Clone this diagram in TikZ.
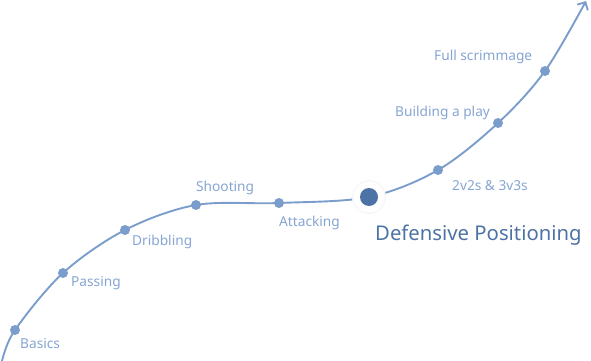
\documentclass[tikz,border=0pt]{standalone}
\usepackage{fontspec}
\setmainfont{Noto Sans}
\usetikzlibrary{arrows.meta}
\definecolor{curveblue}{HTML}{7A9DCB}
\definecolor{labelblue}{HTML}{86A5D2}
\definecolor{darkblue}{HTML}{4D72A5}
\begin{document}
\begin{tikzpicture}[x=1pt,y=-1pt,
  stepdot/.style={circle,fill=curveblue,inner sep=0pt,minimum size=10pt},
  steplabel/.style={anchor=west,inner sep=0pt,text=labelblue,font=\fontsize{13.7}{15}\selectfont},
  curve/.style={draw=curveblue,line width=1.9pt}]
\useasboundingbox (0,0) rectangle (591,361);
\coordinate (s) at (2,361);
\coordinate (b) at (15,330);
\coordinate (p) at (63,273);
\coordinate (d) at (125,230);
\coordinate (sh) at (196,205);
\coordinate (a) at (279,203);
\coordinate (dp) at (369,197);
\coordinate (v) at (438,170);
\coordinate (bp) at (498,123);
\coordinate (f) at (545,71);
\coordinate (e) at (586,1);
\draw[curve,-{Straight Barb[length=6pt,width=12pt]}] plot[smooth,tension=0.55] coordinates {(s) (b) (p) (d) (sh) (a) (dp) (v) (bp) (f) (e)};
\node[stepdot] (nb) at (b) {};
\node[stepdot] (np) at (p) {};
\node[stepdot] (nd) at (d) {};
\node[stepdot] (nsh) at (sh) {};
\node[stepdot] (na) at (a) {};
\node[circle,fill=black!3,inner sep=0pt,minimum size=34pt] (shadow) at (dp) {};
\node[circle,fill=white,inner sep=0pt,minimum size=31pt] (halo) at (dp) {};
\node[circle,fill=darkblue,inner sep=0pt,minimum size=18pt] (ndp) at (dp) {};
\node[stepdot] (nv) at (v) {};
\node[stepdot] (nbp) at (bp) {};
\node[stepdot] (nf) at (f) {};
\node[steplabel] (lb) at (20,343.5) {Basics};
\node[steplabel] (lp) at (71,283.5) {Passing};
\node[steplabel] (ld) at (132,241.5) {Dribbling};
\node[steplabel] (lsh) at (196,187.5) {Shooting};
\node[steplabel] (la) at (279,222.5) {Attacking};
\node[anchor=west,inner sep=0pt,text=darkblue,font=\fontsize{20.3}{22}\selectfont] (ldp) at (375,235.5) {Defensive Positioning};
\node[steplabel] (lv) at (452,185.5) {2v2s \& 3v3s};
\node[steplabel] (lbp) at (395,112.5) {Building a play};
\node[steplabel] (lf) at (434,56.5) {Full scrimmage};
\end{tikzpicture}
\end{document}
